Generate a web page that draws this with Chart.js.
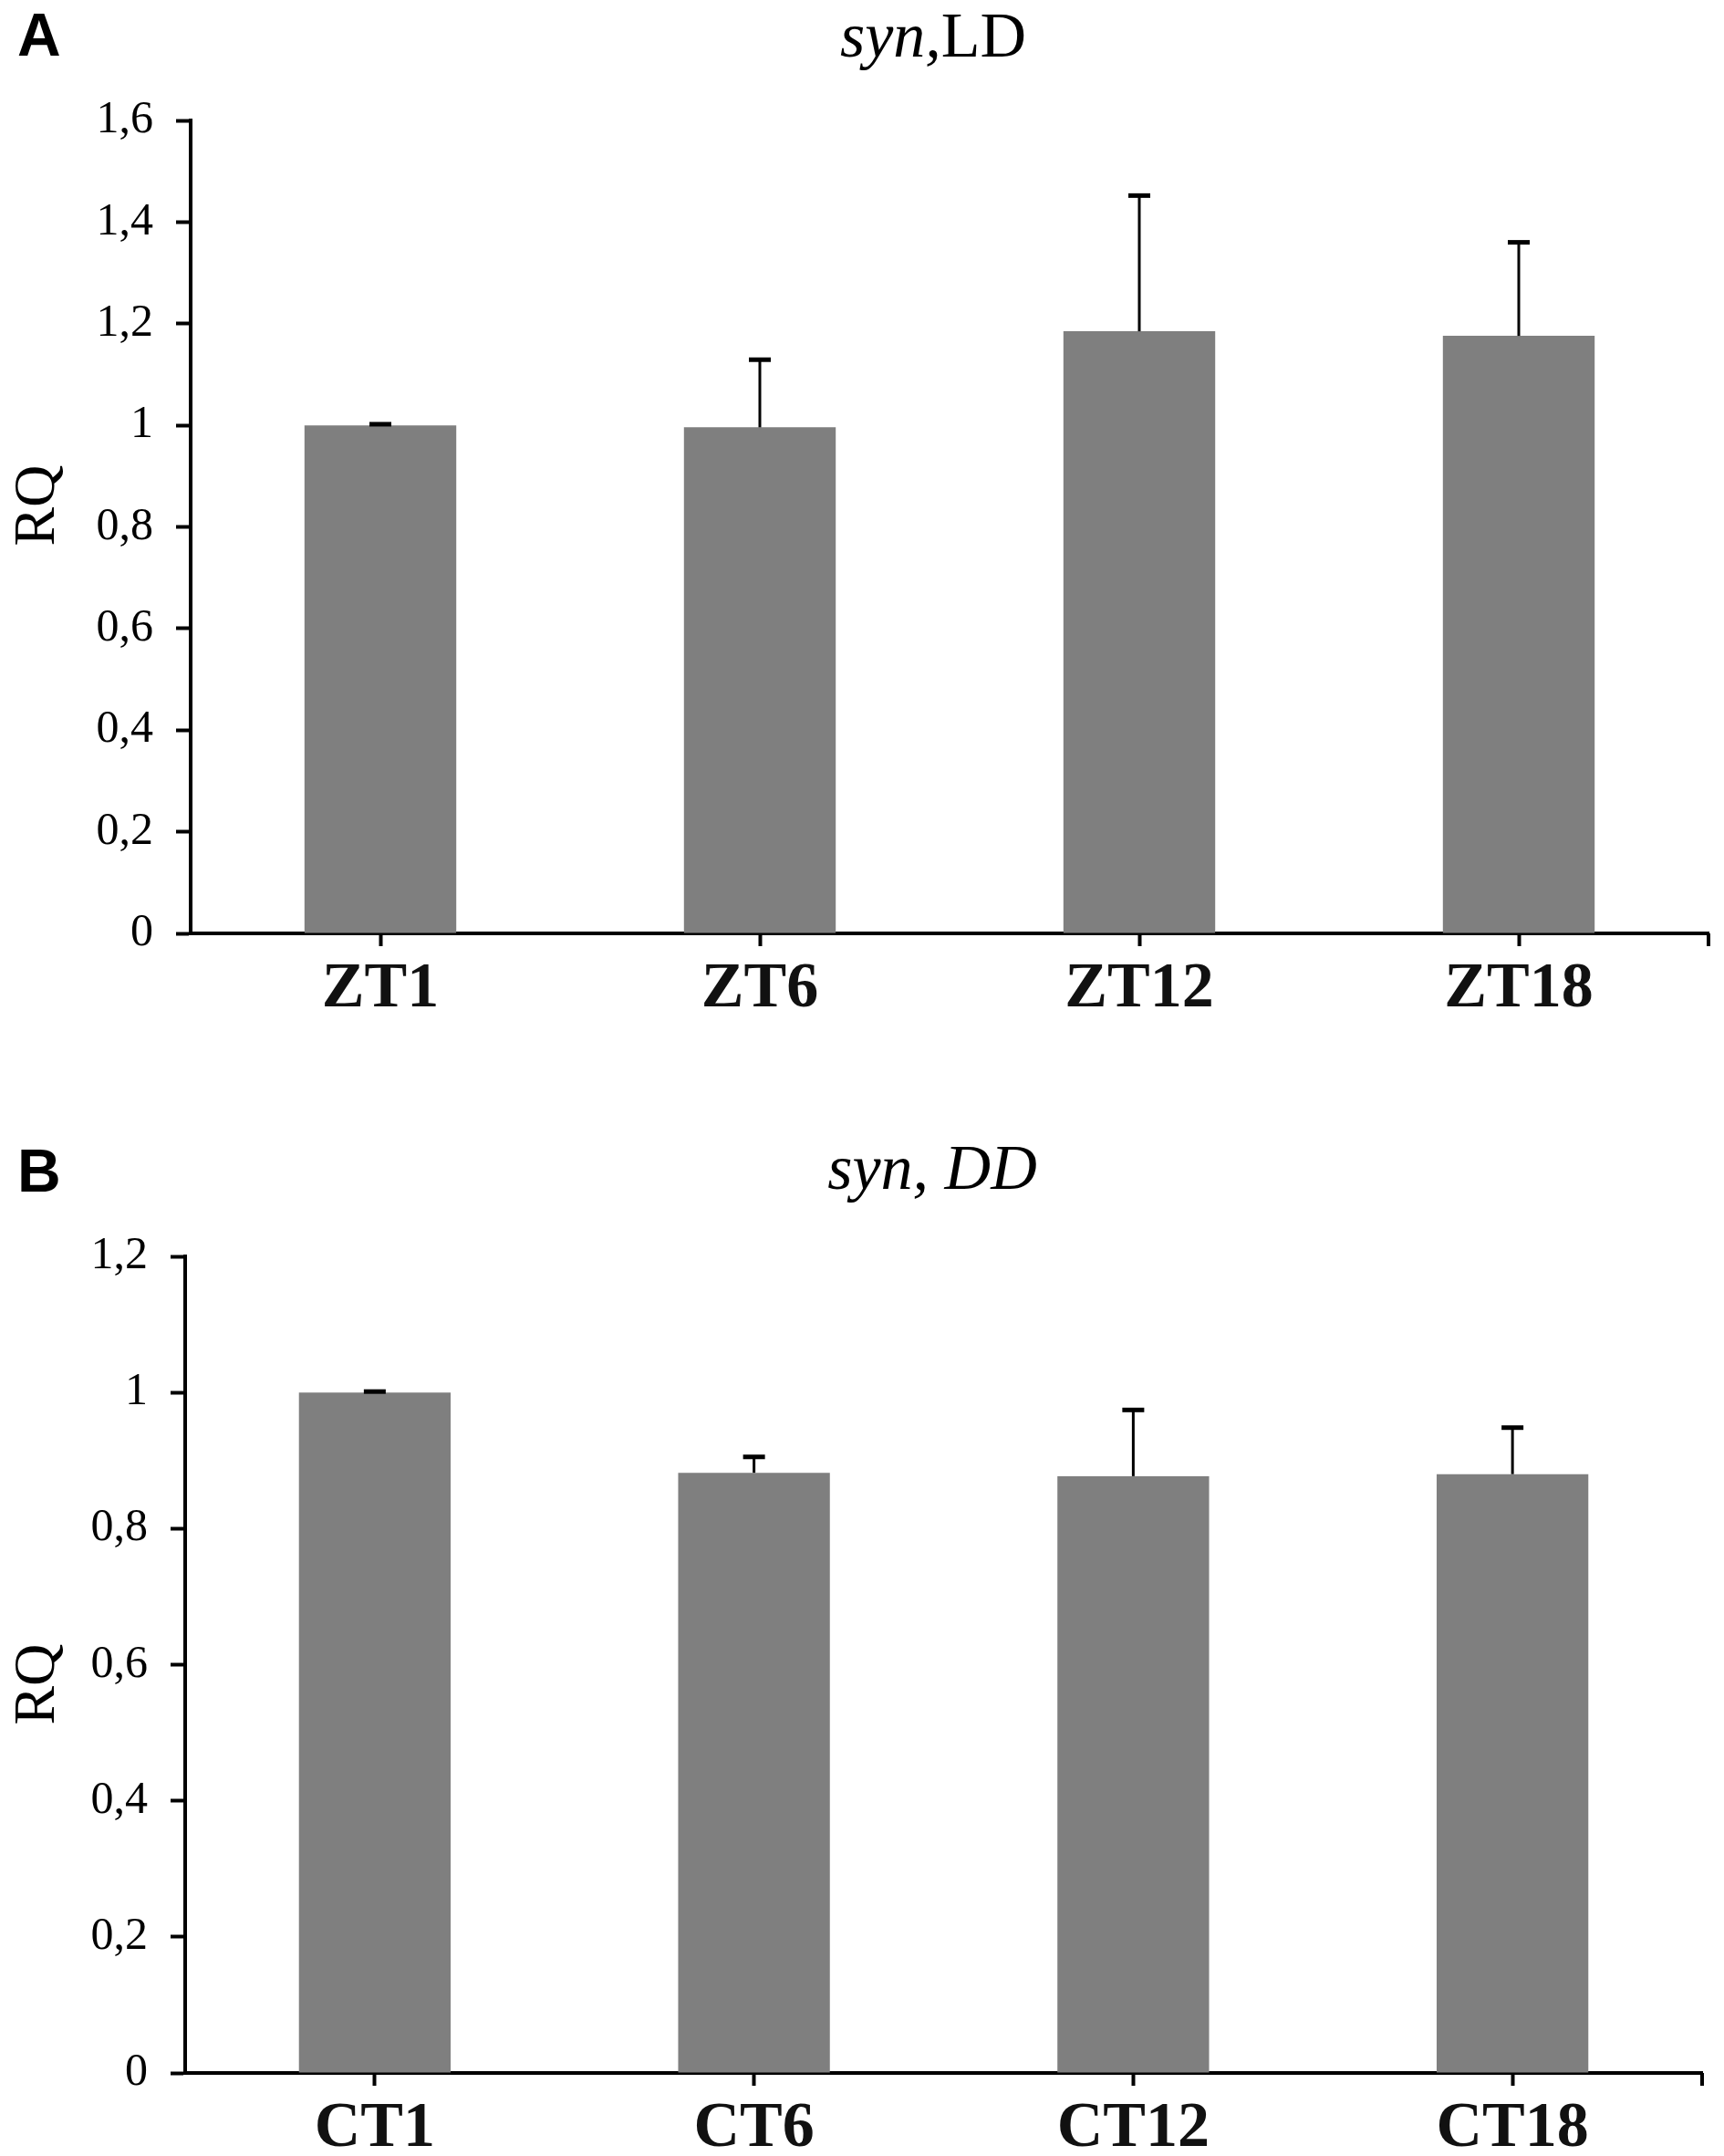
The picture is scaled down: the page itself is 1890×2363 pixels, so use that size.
<!DOCTYPE html>
<html>
<head>
<meta charset="utf-8">
<script src="https://cdn.jsdelivr.net/npm/chart.js@4.4.1/dist/chart.umd.min.js"></script>
<style>
  html, body { margin: 0; padding: 0; background: #fff; overflow: hidden; width: 1890px; height: 2363px; }
  .panel { position: absolute; left: 0; width: 1890px; height: 1245px; }
  canvas { display: block; }
</style>
</head>
<body>
<div class="panel" style="top:0px"><canvas id="chartA" width="1890" height="1245"></canvas></div>
<div class="panel" style="top:1245px"><canvas id="chartB" width="1890" height="1245"></canvas></div>
<script>
// ---- Data ----
const catsA = ['ZT1', 'ZT6', 'ZT12', 'ZT18'];
const valsA = [1.000, 0.996, 1.185, 1.176];
const errsA = [0.003, 0.134, 0.268, 0.185];
const yTicksA = ['0', '0,2', '0,4', '0,6', '0,8', '1', '1,2', '1,4', '1,6'];

const catsB = ['CT1', 'CT6', 'CT12', 'CT18'];
const valsB = [1.000, 0.882, 0.877, 0.880];
const errsB = [0.002, 0.024, 0.098, 0.069];
const yTicksB = ['0', '0,2', '0,4', '0,6', '0,8', '1', '1,2'];

const SERIF = "'Liberation Serif', 'Times New Roman', serif";
Chart.defaults.font.family = SERIF;
Chart.defaults.color = '#000';

function makeChart(id, cats, vals, errs, yTicks, ymax, g) {
  const ctx = document.getElementById(id).getContext('2d');
  const overlay = {
    id: 'overlay_' + id,
    afterDatasetsDraw(chart) {
      const c = chart.ctx;
      const meta = chart.getDatasetMeta(0);
      const ys = chart.scales.y;
      c.save();
      c.strokeStyle = '#000';
      c.fillStyle = '#000';
      c.lineWidth = 3;
      meta.data.forEach((bar, i) => {
        const x = bar.x;
        const yTop = ys.getPixelForValue(vals[i]);
        const yErr = ys.getPixelForValue(vals[i] + errs[i]);
        c.beginPath();
        c.moveTo(x, yTop);
        c.lineTo(x, yErr);
        c.stroke();
        c.fillRect(x - 12, yErr - 2, 24, 5);
      });
      c.restore();
    },
    afterDraw(chart) {
      const c = chart.ctx;
      const a = chart.chartArea;
      c.save();
      // right end tick on x axis
      c.fillStyle = '#000';
      c.fillRect(a.right - 2, a.bottom, 4, 14);
      // panel letter
      c.font = "bold 66px 'Liberation Sans', Arial, sans-serif";
      c.textAlign = 'left';
      c.textBaseline = 'alphabetic';
      c.fillText(g.letter, 19, 61);
      // title
      const parts = g.title;
      let total = 0;
      parts.forEach(p => {
        c.font = (p.italic ? 'italic ' : '') + '70px ' + SERIF;
        p.w = c.measureText(p.t).width;
        total += p.w;
      });
      let x = g.titleX - total / 2;
      parts.forEach(p => {
        c.font = (p.italic ? 'italic ' : '') + '70px ' + SERIF;
        c.fillText(p.t, x, g.titleY);
        x += p.w;
      });
      // y axis title
      c.translate(g.rqX, g.rqY);
      c.rotate(-Math.PI / 2);
      c.font = '64px ' + SERIF;
      c.textAlign = 'center';
      c.textBaseline = 'middle';
      c.fillText('RQ', 0, 0);
      c.restore();
    }
  };
  return new Chart(ctx, {
    type: 'bar',
    data: {
      labels: cats,
      datasets: [{
        data: vals,
        backgroundColor: '#7f7f7f',
        borderWidth: 0,
        barPercentage: 0.4,
        categoryPercentage: 1.0
      }]
    },
    options: {
      responsive: false,
      animation: false,
      devicePixelRatio: 1,
      layout: { padding: { left: 0, right: 1890 - g.right, top: g.top, bottom: 0 } },
      plugins: { legend: { display: false }, tooltip: { enabled: false }, title: { display: false } },
      scales: {
        x: {
          offset: true,
          grid: { offset: false, drawOnChartArea: false, drawTicks: true, tickLength: 14, tickWidth: 4, tickColor: '#000' },
          border: { display: true, width: 4, color: '#000' },
          ticks: { font: { size: 70, weight: 'bold' }, color: '#111', padding: 6 },
          afterFit: (s) => { s.height = 1245 - g.bottom; }
        },
        y: {
          min: 0,
          max: ymax,
          grid: { drawOnChartArea: false, drawTicks: true, tickLength: 16, tickWidth: 4, tickColor: '#000' },
          border: { display: true, width: 4, color: '#000' },
          ticks: {
            stepSize: 0.2,
            font: { size: 50 },
            color: '#000',
            padding: 25,
            callback: (v, i) => yTicks[i]
          },
          afterFit: (s) => { s.width = g.left; }
        }
      }
    },
    plugins: [overlay]
  });
}

makeChart('chartA', catsA, valsA, errsA, yTicksA, 1.6, {
  left: 209, right: 1873, top: 132, bottom: 1023,
  letter: 'A',
  title: [{ t: 'syn,', italic: true }, { t: 'LD', italic: false }],
  titleX: 1023, titleY: 62,
  rqX: 42, rqY: 554
});
makeChart('chartB', catsB, valsB, errsB, yTicksB, 1.2, {
  left: 203, right: 1866, top: 132, bottom: 1027,
  letter: 'B',
  title: [{ t: 'syn, DD', italic: true }],
  titleX: 1022, titleY: 58,
  rqX: 42, rqY: 601
});
</script>
</body>
</html>
